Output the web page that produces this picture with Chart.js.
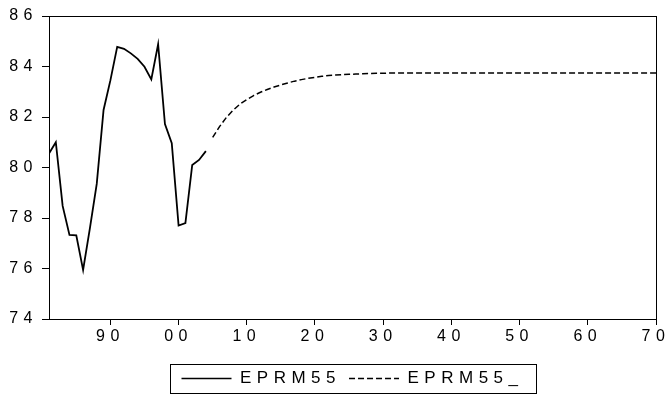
<!DOCTYPE html>
<html>
<head>
<meta charset="utf-8">
<script src="https://cdn.jsdelivr.net/npm/chart.js@4/dist/chart.umd.min.js"></script>
<style>
  html, body { margin: 0; padding: 0; background: #fff; }
  #wrap { width: 666px; height: 397px; }
</style>
</head>
<body>
<div id="wrap"><canvas id="chart"></canvas></div>
<script>
// actual series EPRM55, 1981-2004
const histYears = [1981, 1982, 1983, 1984, 1985, 1986, 1987, 1988, 1989, 1990, 1991, 1992,
    1993, 1994, 1995, 1996, 1997, 1998, 1999, 2000, 2001, 2002, 2003, 2004];
const histValues = [80.55, 81.0, 78.48, 77.33, 77.31, 75.94, 77.6, 79.35, 82.28, 83.45, 84.78, 84.7,
    84.52, 84.3, 83.99, 83.49, 84.88, 81.72, 80.96, 77.7, 77.8, 80.1, 80.3, 80.65];

// forecast series EPRM55_, 2005-2070
const fcYears = [2005, 2006, 2007, 2008, 2009, 2010, 2011, 2012, 2013, 2014, 2015, 2016,
    2017, 2018, 2019, 2020, 2021, 2022, 2023, 2024, 2025, 2026, 2027, 2028, 2029, 2030,
    2031, 2032, 2033, 2034, 2035, 2036, 2037, 2038, 2039, 2040, 2041, 2042, 2043, 2044,
    2045, 2046, 2047, 2048, 2049, 2050, 2051, 2052, 2053, 2054, 2055, 2056, 2057, 2058,
    2059, 2060, 2061, 2062, 2063, 2064, 2065, 2066, 2067, 2068, 2069, 2070];
const fcValues = [81.19, 81.62, 81.98, 82.27, 82.51, 82.69, 82.85, 82.98, 83.09, 83.19, 83.27, 83.35,
    83.42, 83.48, 83.53, 83.57, 83.61, 83.64, 83.66, 83.68, 83.69, 83.70, 83.71, 83.72, 83.73, 83.73,
    83.74, 83.74, 83.74, 83.74, 83.74, 83.74, 83.74, 83.74, 83.74, 83.74, 83.74, 83.74, 83.74, 83.74,
    83.74, 83.74, 83.74, 83.74, 83.74, 83.74, 83.74, 83.74, 83.74, 83.74, 83.74, 83.74, 83.74, 83.74,
    83.74, 83.74, 83.74, 83.74, 83.74, 83.74, 83.74, 83.74, 83.74, 83.74, 83.74, 83.74];

const xTickYears = [1990, 2000, 2010, 2020, 2030, 2040, 2050, 2060, 2070];
const seriesNames = ["EPRM55", "EPRM55_"];

const FONT = "'Liberation Sans', Arial, sans-serif";
const SPACING = "5.5px";

function toPoints(years, values) {
    return years.map((y, i) => ({ x: y, y: values[i] }));
}

// wide letter spacing like the printed chart
const letterSpacing = {
    id: "letterSpacing",
    beforeUpdate(chart) { chart.ctx.letterSpacing = SPACING; },
    beforeDraw(chart) { chart.ctx.letterSpacing = SPACING; }
};

// frame round the plot and round the legend
const frames = {
    id: "frames",
    afterDraw(chart) {
        const ctx = chart.ctx;
        const a = chart.chartArea;
        ctx.save();
        ctx.strokeStyle = "#000";
        ctx.lineWidth = 1;
        ctx.setLineDash([]);
        ctx.strokeRect(Math.round(a.left) + 0.5, Math.round(a.top) + 0.5,
            Math.round(a.right - a.left), Math.round(a.bottom - a.top));

        const boxes = chart.legend.legendHitBoxes;
        if (boxes && boxes.length) {
            const first = boxes[0];
            const last = boxes[boxes.length - 1];
            const mid = first.top + first.height / 2;
            const left = Math.round(first.left - 11) + 0.5;
            const right = Math.round(last.left + last.width + 12) + 0.5;
            ctx.strokeRect(left, Math.round(mid - 15) + 0.5, right - left, 29);
        }
        ctx.restore();
    }
};

new Chart(document.getElementById("chart"), {
    type: "line",
    data: {
        datasets: [{
            label: seriesNames[0],
            data: toPoints(histYears, histValues),
            borderColor: "#000",
            backgroundColor: "rgba(0,0,0,0)",
            borderWidth: 1.8,
            pointRadius: 0,
            tension: 0
        }, {
            label: seriesNames[1],
            data: toPoints(fcYears, fcValues),
            borderColor: "#000",
            backgroundColor: "rgba(0,0,0,0)",
            borderWidth: 1.5,
            borderDash: [6, 3],
            pointRadius: 0,
            tension: 0
        }]
    },
    options: {
        responsive: true,
        maintainAspectRatio: false,
        animation: false,
        layout: { padding: { top: 16, right: 10, bottom: 0, left: 0 } },
        plugins: {
            tooltip: { enabled: false },
            legend: {
                position: "bottom",
                fullSize: false,
                labels: {
                    color: "#000",
                    font: { family: FONT, size: 17 },
                    usePointStyle: true,
                    pointStyle: "line",
                    pointStyleWidth: 50,
                    boxHeight: 17,
                    padding: 8,
                    generateLabels(chart) {
                        const items = Chart.defaults.plugins.legend.labels.generateLabels(chart);
                        items.forEach(item => {
                            const ds = chart.data.datasets[item.datasetIndex];
                            item.lineDash = ds.borderDash || [];
                            item.lineWidth = 1.5;
                        });
                        return items;
                    }
                }
            }
        },
        scales: {
            x: {
                type: "linear",
                min: 1981,
                max: 2070,
                afterBuildTicks: (s) => { s.ticks = xTickYears.map(v => ({ value: v })); },
                afterFit: (s) => { s.height = 43; s.paddingLeft = 0; s.paddingRight = 0; },
                grid: { drawOnChartArea: false, drawTicks: true, tickLength: 6, color: "#000" },
                border: { display: true, color: "#000", width: 1 },
                ticks: {
                    color: "#000",
                    padding: 2,
                    maxRotation: 0,
                    font: { family: FONT, size: 16 },
                    callback: (v) => String(v % 100).padStart(2, "0")
                }
            },
            y: {
                min: 74,
                max: 86,
                afterFit: (s) => { s.width = 49; s.paddingTop = 0; s.paddingBottom = 0; },
                grid: { drawOnChartArea: false, drawTicks: true, tickLength: 7, color: "#000" },
                border: { display: true, color: "#000", width: 1 },
                ticks: {
                    color: "#000",
                    stepSize: 2,
                    padding: 4,
                    font: { family: FONT, size: 16 }
                }
            }
        }
    },
    plugins: [letterSpacing, frames]
});
</script>
</body>
</html>
